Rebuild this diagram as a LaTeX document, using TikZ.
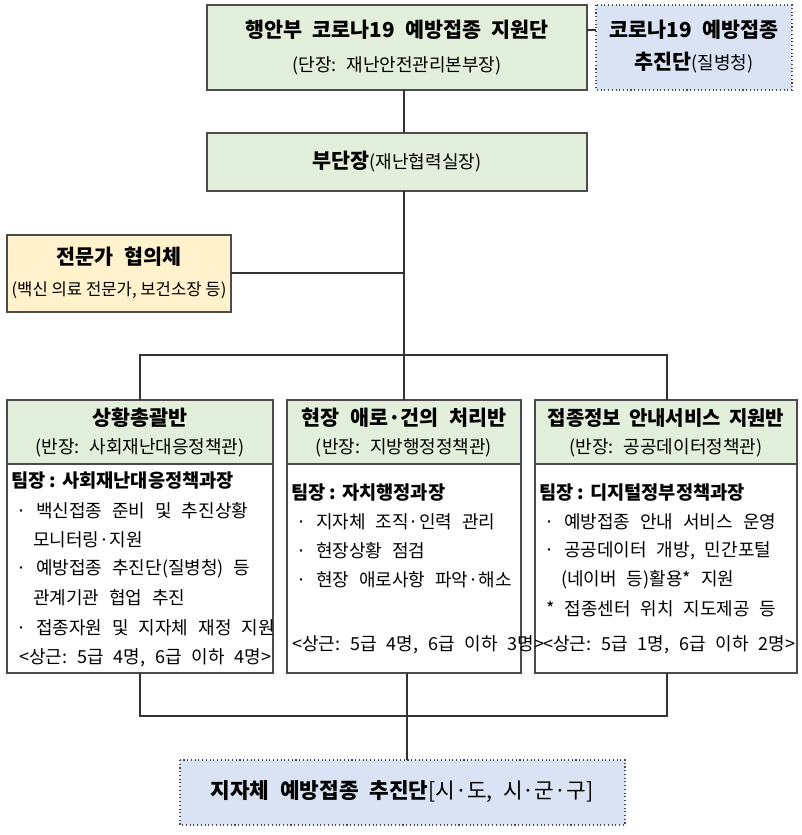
\documentclass[tikz,border=0pt]{standalone}
\usepackage{fontspec}
\setmainfont{Noto Sans CJK KR}
\newcommand\wsA{\spaceskip 0.55em\relax}
\newcommand\wsB{\spaceskip 0.5em\relax}
\newcommand\wsC{\spaceskip 0.4em\relax}
\begin{document}
\begin{tikzpicture}[x=0.75pt,y=-0.75pt,
  box/.style={draw=black!70,line width=0.8pt},
  gbox/.style={box,fill=gfill},
  ln/.style={line width=0.8pt,black!80},
  t/.style={font=\fontsize{13.5}{16}\selectfont\wsA,inner sep=0pt},
  tb/.style={font=\fontsize{15.5}{18}\selectfont\bfseries\wsB,inner sep=0pt},
  hb/.style={font=\fontsize{14}{16}\selectfont\bfseries,inner sep=0pt,anchor=west},
  li/.style={t,anchor=west}]
\definecolor{gfill}{HTML}{E2EFDA}
\definecolor{bfill}{HTML}{DAE3F3}
\definecolor{yfill}{HTML}{FFF2CC}
\useasboundingbox (0,0) rectangle (802,835);
% boxes
\draw[gbox] (207,5) rectangle (587,90);
\node[tb] (top1) at (397,30) {행안부 코로나19 예방접종 지원단};
\node[t] (top2) at (397,66) {(단장:\ 재난안전관리본부장)};
\draw[box,dotted,fill=bfill] (596,5) rectangle (792,90);
\node[tb] (r1) at (694,30) {코로나19 예방접종};
\node[t] (r2) at (694,63) {\textbf{\fontsize{15.5}{18}\selectfont 추진단}(질병청)};
\draw[gbox] (207,133) rectangle (587,191);
\node[t] (dep) at (397,162) {\textbf{\fontsize{15.5}{18}\selectfont 부단장}(재난협력실장)};
\draw[box,fill=yfill] (7,235) rectangle (231,312);
\node[tb] (ex1) at (119,257) {전문가 협의체};
\node[t,font=\fontsize{12.5}{14}\selectfont] (ex2) at (119,290) {(백신 의료 전문가, 보건소장 등)};
% three columns
\draw[gbox] (7,400) rectangle (273,464);
\draw[box] (7,464) rectangle (273,673);
\draw[gbox] (287,400) rectangle (521,464);
\draw[box] (287,464) rectangle (521,673);
\draw[gbox] (535,400) rectangle (797,464);
\draw[box] (535,464) rectangle (797,673);
\node[tb] (a1) at (140,418) {상황총괄반};
\node[t] (a2) at (140,448) {(반장:\ 사회재난대응정책관)};
\node[tb] (b1) at (404,418) {현장 애로·건의 처리반};
\node[t] (b2) at (404,448) {(반장:\ 지방행정정책관)};
\node[tb,font=\fontsize{15}{18}\selectfont\bfseries\wsC] (c1) at (666,418) {접종정보 안내서비스 지원반};
\node[t] (c2) at (666,448) {(반장:\ 공공데이터정책관)};
% left body
\node[hb] (la) at (11,481) {팀장 : 사회재난대응정책과장};
\node[li] (lb) at (16,511) {·\ 백신접종 준비 및 추진상황};
\node[li] (lc) at (33,540) {모니터링·지원};
\node[li] (ld) at (16,569) {·\ 예방접종 추진단(질병청) 등};
\node[li] (le) at (33,598) {관계기관 협업 추진};
\node[li] (lf) at (16,628) {·\ 접종자원 및 지자체 재정 지원};
\node[li] (lg) at (19,658) {<상근:\ 5급 4명, 6급 이하 4명>};
% middle body
\node[hb] (ma) at (291,493) {팀장 : 자치행정과장};
\node[li] (mb) at (296,522) {·\ 지자체 조직·인력 관리};
\node[li] (mc) at (296,551) {·\ 현장상황 점검};
\node[li] (md) at (296,580) {·\ 현장 애로사항 파악·해소};
\node[li] (me) at (292,645) {<상근:\ 5급 4명, 6급 이하 3명>};
% right body
\node[hb] (ra) at (539,493) {팀장 : 디지털정부정책과장};
\node[li] (rb) at (544,522) {·\ 예방접종 안내 서비스 운영};
\node[li] (rc) at (544,551) {·\ 공공데이터 개방, 민간포털};
\node[li] (rd) at (561,580) {(네이버 등)활용* 지원};
\node[li] (re) at (546,609) {*\ 접종센터 위치 지도제공 등};
\node[li] (rf) at (543,645) {<상근:\ 5급 1명, 6급 이하 2명>};
% bottom
\draw[box,dotted,fill=bfill] (180,760) rectangle (625,825);
\node[t,font=\fontsize{16}{18}\selectfont\wsB] (bot) at (402,792) {\textbf{지자체 예방접종 추진단}[시·도, 시·군·구]};
% connectors
\coordinate (j1) at (404,355);
\draw[ln] (587,30) -- (596,30);
\draw[ln] (404,90) -- (404,133);
\draw[ln] (404,191) -- (j1);
\draw[ln] (231,273) -- (404,273);
\draw[ln] (140,400) -- (140,355) -- (667,355) -- (667,400);
\draw[ln] (j1) -- (404,400);
\draw[ln] (140,673) -- (140,716) -- (667,716) -- (667,673);
\draw[ln] (407,673) -- (407,760);
\end{tikzpicture}
\end{document}
